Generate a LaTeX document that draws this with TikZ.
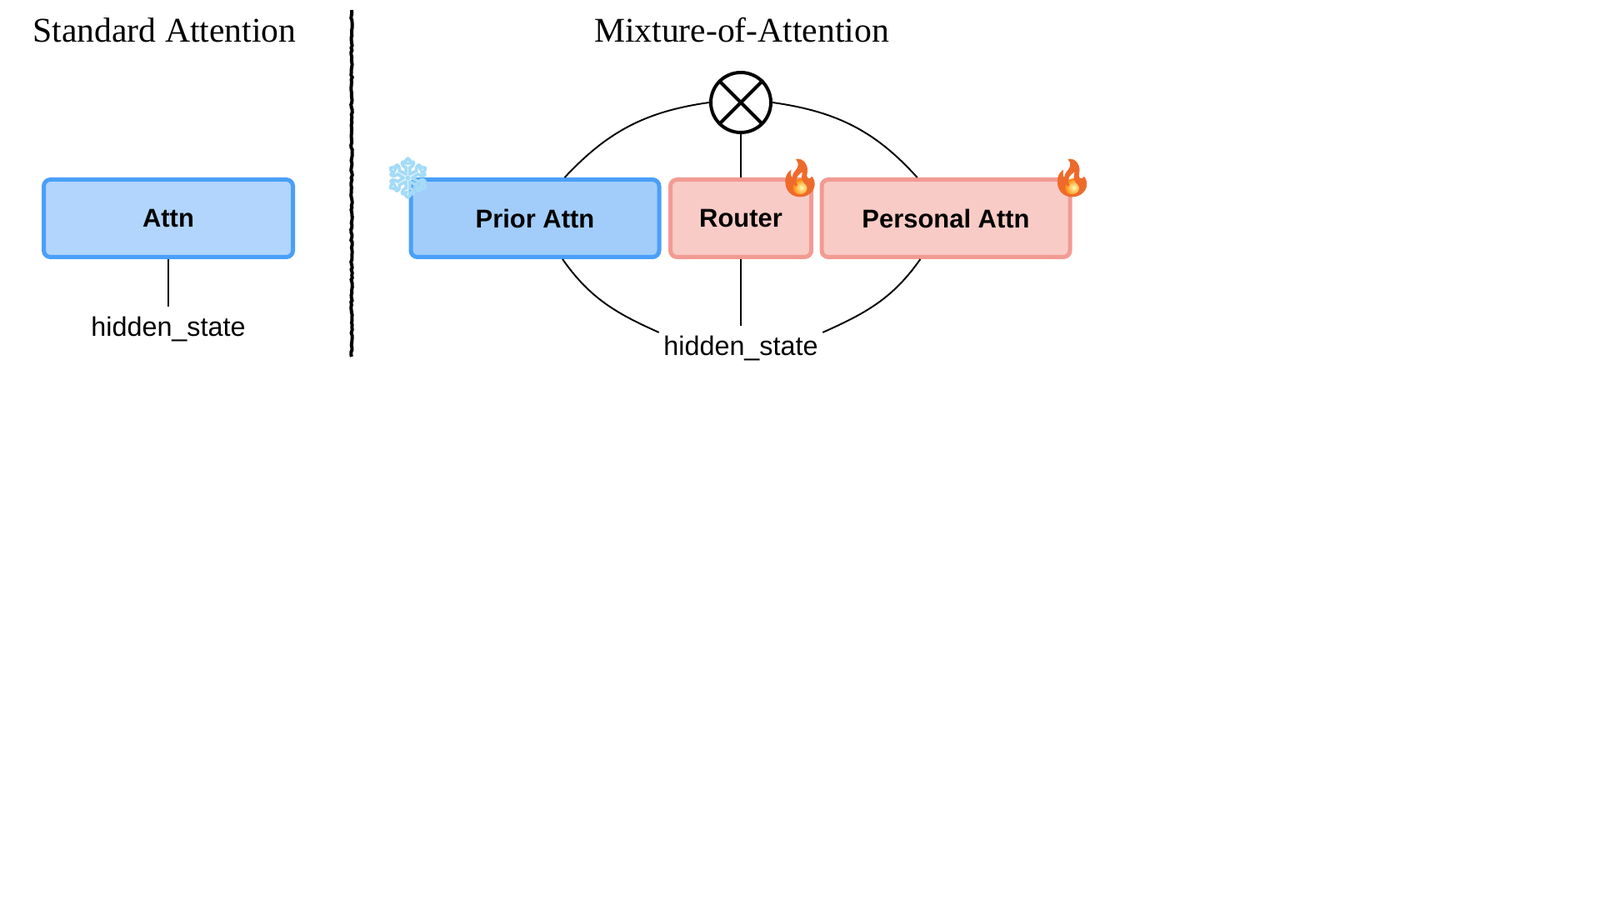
\documentclass[tikz,border=0pt]{standalone}
\usepackage{fontspec}
\usetikzlibrary{decorations.pathmorphing}
\setmainfont{Liberation Sans}
\newfontfamily\titlefont{Liberation Serif}
\newfontfamily\emojifont[FakeBold=1.5]{Noto Emoji}
\newfontfamily\frostfont[FakeBold=4]{Noto Emoji}
\definecolor{attnfill}{HTML}{B1D5FC}
\definecolor{priorfill}{HTML}{A2CDFB}
\definecolor{blueline}{HTML}{4A9FF9}
\definecolor{redfill}{HTML}{F8CBC6}
\definecolor{redline}{HTML}{F29B93}
\definecolor{flame}{HTML}{EE6A2C}
\definecolor{frost}{HTML}{A4DBF6}
\tikzset{
    attnbox/.style={draw, rounded corners=0.08cm, line width=0.05cm, minimum height=0.93cm, font=\fontsize{8.8}{10}\selectfont\bfseries},
    bluebox/.style={attnbox, draw=blueline},
    redbox/.style={attnbox, draw=redline, fill=redfill},
    hidden/.style={inner xsep=0.05cm, inner ysep=0.11cm, font=\fontsize{9.2}{11}\selectfont},
    heading/.style={font=\fontsize{11.85}{14}\titlefont},
    wire/.style={line width=0.55pt},
    firebadge/.style={inner sep=0pt, text=flame, font=\fontsize{12.6}{14}\emojifont},
    frostbadge/.style={inner sep=0pt, text=frost, font=\fontsize{13.6}{15}\frostfont}
}
\begin{document}
\begin{tikzpicture}
    \useasboundingbox (0,0) rectangle (19.2,-10.8);

    % Titulos
    \node[heading] (titleA) at (1.975,-0.36) {Standard Attention};
    \node[heading] (titleB) at (8.9,-0.36) {Mixture-of-Attention};

    % Separador
    \coordinate (sepA) at (4.22,-0.12);
    \coordinate (sepB) at (4.22,-4.28);
    \draw[line width=0.04cm, decorate, decoration={random steps, segment length=0.03cm, amplitude=0.008cm}] (sepA) -- (sepB);

    % Cajas
    \node[bluebox, fill=attnfill, minimum width=2.99cm] (attn) at (2.02,-2.62) {Attn};
    \node[bluebox, fill=priorfill, minimum width=2.98cm] (prior) at (6.42,-2.62) {Prior Attn};
    \node[redbox, minimum width=1.69cm] (router) at (8.89,-2.62) {Router};
    \node[redbox, minimum width=2.98cm] (personal) at (11.35,-2.62) {Personal Attn};

    % Mezcla
    \node[draw, circle, line width=0.04cm, minimum size=0.72cm, inner sep=0pt] (mix) at (8.89,-1.23) {};
    \draw[line width=0.04cm] (mix.45) -- (mix.225);
    \draw[line width=0.04cm] (mix.135) -- (mix.315);

    % Etiquetas
    \node[hidden] (hiddenA) at (2.02,-3.95) {hidden\_state};
    \node[hidden] (hiddenB) at (8.89,-4.18) {hidden\_state};

    % Conexiones
    \draw[wire] (attn) -- (hiddenA);
    \draw[wire] (router) -- (mix);
    \draw[wire] (router) -- (hiddenB);
    \draw[wire] (mix.west) to[out=188,in=47] (prior.54);
    \draw[wire] (mix.east) to[out=-8,in=132] (personal.125);
    \draw[wire] (prior.-56) to[out=-55,in=156] (hiddenB.169);
    \draw[wire] (personal.-122) to[out=-125,in=24] (hiddenB.11);

    % Iconos
    \shade[inner color=yellow!30!white, outer color=orange] (9.62,-2.25) circle (0.11);
    \shade[inner color=yellow!30!white, outer color=orange] (12.885,-2.25) circle (0.11);
    \node[frostbadge] (frozen) at (4.895,-2.135) {❄};
    \node[firebadge] (fireA) at (9.6,-2.135) {🔥};
    \node[firebadge] (fireB) at (12.865,-2.135) {🔥};
\end{tikzpicture}
\end{document}
